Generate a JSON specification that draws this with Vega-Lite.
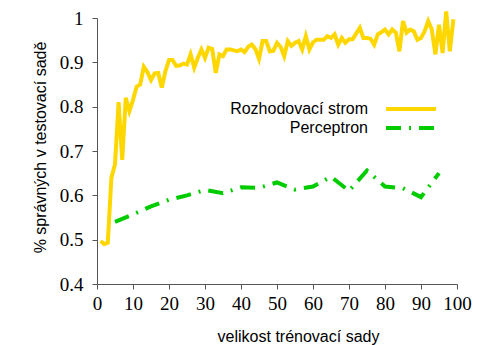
{
  "$schema": "https://vega.github.io/schema/vega-lite/v6.json",
  "width": 360,
  "height": 266,
  "autosize": {"type": "none"},
  "padding": {"left": 97, "top": 18, "right": 35, "bottom": 61},
  "config": {
    "view": {"stroke": null},
    "style": {
      "guide-label": {"font": "Liberation Serif", "fontSize": 19, "fill": "#000000"}
    },
    "axis": {
      "grid": false,
      "domainColor": "#555555",
      "tickColor": "#555555",
      "tickSize": 5,
      "labelFont": "Liberation Serif",
      "labelFontSize": 19,
      "labelColor": "#000000",
      "titleFont": "Liberation Sans",
      "titleFontSize": 16,
      "titleFontWeight": "normal",
      "titleColor": "#000000"
    },
    "legend": {
      "labelFont": "Liberation Sans",
      "labelFontSize": 16,
      "labelColor": "#000000"
    }
  },
  "data": {
    "values": [
      {"x": 1, "acc": 0.497, "model": "Rozhodovací strom"},
      {"x": 2, "acc": 0.49, "model": "Rozhodovací strom"},
      {"x": 3, "acc": 0.493, "model": "Rozhodovací strom"},
      {"x": 4, "acc": 0.64, "model": "Rozhodovací strom"},
      {"x": 5, "acc": 0.67, "model": "Rozhodovací strom"},
      {"x": 6, "acc": 0.81, "model": "Rozhodovací strom"},
      {"x": 7, "acc": 0.68, "model": "Rozhodovací strom"},
      {"x": 8, "acc": 0.82, "model": "Rozhodovací strom"},
      {"x": 9, "acc": 0.79, "model": "Rozhodovací strom"},
      {"x": 10, "acc": 0.815, "model": "Rozhodovací strom"},
      {"x": 11, "acc": 0.845, "model": "Rozhodovací strom"},
      {"x": 12, "acc": 0.85, "model": "Rozhodovací strom"},
      {"x": 13, "acc": 0.89, "model": "Rozhodovací strom"},
      {"x": 14, "acc": 0.878, "model": "Rozhodovací strom"},
      {"x": 15, "acc": 0.86, "model": "Rozhodovací strom"},
      {"x": 16, "acc": 0.875, "model": "Rozhodovací strom"},
      {"x": 17, "acc": 0.876, "model": "Rozhodovací strom"},
      {"x": 18, "acc": 0.843, "model": "Rozhodovací strom"},
      {"x": 19, "acc": 0.88, "model": "Rozhodovací strom"},
      {"x": 20, "acc": 0.905, "model": "Rozhodovací strom"},
      {"x": 21, "acc": 0.905, "model": "Rozhodovací strom"},
      {"x": 22, "acc": 0.892, "model": "Rozhodovací strom"},
      {"x": 23, "acc": 0.893, "model": "Rozhodovací strom"},
      {"x": 24, "acc": 0.897, "model": "Rozhodovací strom"},
      {"x": 25, "acc": 0.895, "model": "Rozhodovací strom"},
      {"x": 26, "acc": 0.918, "model": "Rozhodovací strom"},
      {"x": 27, "acc": 0.888, "model": "Rozhodovací strom"},
      {"x": 28, "acc": 0.91, "model": "Rozhodovací strom"},
      {"x": 29, "acc": 0.929, "model": "Rozhodovací strom"},
      {"x": 30, "acc": 0.91, "model": "Rozhodovací strom"},
      {"x": 31, "acc": 0.933, "model": "Rozhodovací strom"},
      {"x": 32, "acc": 0.93, "model": "Rozhodovací strom"},
      {"x": 33, "acc": 0.876, "model": "Rozhodovací strom"},
      {"x": 34, "acc": 0.918, "model": "Rozhodovací strom"},
      {"x": 35, "acc": 0.914, "model": "Rozhodovací strom"},
      {"x": 36, "acc": 0.929, "model": "Rozhodovací strom"},
      {"x": 37, "acc": 0.929, "model": "Rozhodovací strom"},
      {"x": 38, "acc": 0.927, "model": "Rozhodovací strom"},
      {"x": 39, "acc": 0.925, "model": "Rozhodovací strom"},
      {"x": 40, "acc": 0.929, "model": "Rozhodovací strom"},
      {"x": 41, "acc": 0.923, "model": "Rozhodovací strom"},
      {"x": 42, "acc": 0.935, "model": "Rozhodovací strom"},
      {"x": 43, "acc": 0.94, "model": "Rozhodovací strom"},
      {"x": 44, "acc": 0.93, "model": "Rozhodovací strom"},
      {"x": 45, "acc": 0.908, "model": "Rozhodovací strom"},
      {"x": 46, "acc": 0.948, "model": "Rozhodovací strom"},
      {"x": 47, "acc": 0.948, "model": "Rozhodovací strom"},
      {"x": 48, "acc": 0.925, "model": "Rozhodovací strom"},
      {"x": 49, "acc": 0.926, "model": "Rozhodovací strom"},
      {"x": 50, "acc": 0.944, "model": "Rozhodovací strom"},
      {"x": 51, "acc": 0.935, "model": "Rozhodovací strom"},
      {"x": 52, "acc": 0.914, "model": "Rozhodovací strom"},
      {"x": 53, "acc": 0.948, "model": "Rozhodovací strom"},
      {"x": 54, "acc": 0.937, "model": "Rozhodovací strom"},
      {"x": 55, "acc": 0.944, "model": "Rozhodovací strom"},
      {"x": 56, "acc": 0.948, "model": "Rozhodovací strom"},
      {"x": 57, "acc": 0.929, "model": "Rozhodovací strom"},
      {"x": 58, "acc": 0.959, "model": "Rozhodovací strom"},
      {"x": 59, "acc": 0.929, "model": "Rozhodovací strom"},
      {"x": 60, "acc": 0.945, "model": "Rozhodovací strom"},
      {"x": 61, "acc": 0.951, "model": "Rozhodovací strom"},
      {"x": 62, "acc": 0.951, "model": "Rozhodovací strom"},
      {"x": 63, "acc": 0.951, "model": "Rozhodovací strom"},
      {"x": 64, "acc": 0.959, "model": "Rozhodovací strom"},
      {"x": 65, "acc": 0.955, "model": "Rozhodovací strom"},
      {"x": 66, "acc": 0.963, "model": "Rozhodovací strom"},
      {"x": 67, "acc": 0.94, "model": "Rozhodovací strom"},
      {"x": 68, "acc": 0.955, "model": "Rozhodovací strom"},
      {"x": 69, "acc": 0.944, "model": "Rozhodovací strom"},
      {"x": 70, "acc": 0.952, "model": "Rozhodovací strom"},
      {"x": 71, "acc": 0.952, "model": "Rozhodovací strom"},
      {"x": 72, "acc": 0.965, "model": "Rozhodovací strom"},
      {"x": 73, "acc": 0.978, "model": "Rozhodovací strom"},
      {"x": 74, "acc": 0.955, "model": "Rozhodovací strom"},
      {"x": 75, "acc": 0.955, "model": "Rozhodovací strom"},
      {"x": 76, "acc": 0.953, "model": "Rozhodovací strom"},
      {"x": 77, "acc": 0.94, "model": "Rozhodovací strom"},
      {"x": 78, "acc": 0.963, "model": "Rozhodovací strom"},
      {"x": 79, "acc": 0.968, "model": "Rozhodovací strom"},
      {"x": 80, "acc": 0.974, "model": "Rozhodovací strom"},
      {"x": 81, "acc": 0.963, "model": "Rozhodovací strom"},
      {"x": 82, "acc": 0.974, "model": "Rozhodovací strom"},
      {"x": 83, "acc": 0.967, "model": "Rozhodovací strom"},
      {"x": 84, "acc": 0.925, "model": "Rozhodovací strom"},
      {"x": 85, "acc": 0.993, "model": "Rozhodovací strom"},
      {"x": 86, "acc": 0.967, "model": "Rozhodovací strom"},
      {"x": 87, "acc": 0.974, "model": "Rozhodovací strom"},
      {"x": 88, "acc": 0.97, "model": "Rozhodovací strom"},
      {"x": 89, "acc": 0.951, "model": "Rozhodovací strom"},
      {"x": 90, "acc": 0.955, "model": "Rozhodovací strom"},
      {"x": 91, "acc": 0.97, "model": "Rozhodovací strom"},
      {"x": 92, "acc": 0.993, "model": "Rozhodovací strom"},
      {"x": 93, "acc": 0.974, "model": "Rozhodovací strom"},
      {"x": 94, "acc": 0.918, "model": "Rozhodovací strom"},
      {"x": 95, "acc": 0.985, "model": "Rozhodovací strom"},
      {"x": 96, "acc": 0.921, "model": "Rozhodovací strom"},
      {"x": 97, "acc": 1.015, "model": "Rozhodovací strom"},
      {"x": 98, "acc": 0.925, "model": "Rozhodovací strom"},
      {"x": 99, "acc": 0.997, "model": "Rozhodovací strom"},
      {"x": 5, "acc": 0.54, "model": "Perceptron"},
      {"x": 10, "acc": 0.557, "model": "Perceptron"},
      {"x": 15, "acc": 0.575, "model": "Perceptron"},
      {"x": 20, "acc": 0.59, "model": "Perceptron"},
      {"x": 25, "acc": 0.6, "model": "Perceptron"},
      {"x": 30, "acc": 0.612, "model": "Perceptron"},
      {"x": 35, "acc": 0.605, "model": "Perceptron"},
      {"x": 40, "acc": 0.618, "model": "Perceptron"},
      {"x": 45, "acc": 0.617, "model": "Perceptron"},
      {"x": 50, "acc": 0.629, "model": "Perceptron"},
      {"x": 55, "acc": 0.613, "model": "Perceptron"},
      {"x": 60, "acc": 0.62, "model": "Perceptron"},
      {"x": 65, "acc": 0.642, "model": "Perceptron"},
      {"x": 70, "acc": 0.61, "model": "Perceptron"},
      {"x": 75, "acc": 0.656, "model": "Perceptron"},
      {"x": 80, "acc": 0.62, "model": "Perceptron"},
      {"x": 85, "acc": 0.616, "model": "Perceptron"},
      {"x": 90, "acc": 0.596, "model": "Perceptron"},
      {"x": 95, "acc": 0.65, "model": "Perceptron"}
    ]
  },
  "mark": {"type": "line", "strokeWidth": 4, "clip": false},
  "encoding": {
    "x": {
      "field": "x",
      "type": "quantitative",
      "scale": {"domain": [0, 100], "nice": false},
      "axis": {
        "values": [0, 10, 20, 30, 40, 50, 60, 70, 80, 90, 100],
        "title": "velikost trénovací sady",
        "labelFont": "Liberation Serif",
        "labelFontSize": 19,
        "labelPadding": 5,
        "labelFlush": false,
        "titleX": 201,
        "titleY": 44,
        "encode": {
          "labels": {
            "update": {
              "font": {"value": "Liberation Serif"},
              "fontSize": {"value": 19}
            }
          }
        }
      }
    },
    "y": {
      "field": "acc",
      "type": "quantitative",
      "scale": {"domain": [0.4, 1], "nice": false, "zero": false},
      "axis": {
        "values": [0.4, 0.5, 0.6, 0.7, 0.8, 0.9, 1],
        "format": "~g",
        "title": "% správných v testovací sadě",
        "labelFont": "Liberation Serif",
        "labelFontSize": 19,
        "labelPadding": 9,
        "labelFlush": false,
        "titleX": -49,
        "titleY": 129,
        "encode": {
          "labels": {
            "update": {
              "font": {"value": "Liberation Serif"},
              "fontSize": {"value": 19}
            }
          }
        }
      }
    },
    "color": {
      "field": "model",
      "type": "nominal",
      "scale": {"domain": ["Rozhodovací strom", "Perceptron"], "range": ["#ffd700", "#00cc00"]},
      "legend": {
        "title": null,
        "orient": "none",
        "legendX": 306,
        "legendY": 83,
        "symbolType": "M-5,0H5",
        "symbolSize": 100,
        "symbolStrokeWidth": 4,
        "labelAlign": "right",
        "labelOffset": -51,
        "padding": 0,
        "rowPadding": 3,
        "labelFont": "Liberation Sans",
        "labelFontSize": 16
      }
    },
    "strokeDash": {
      "field": "model",
      "type": "nominal",
      "scale": {"domain": ["Rozhodovací strom", "Perceptron"], "range": [[1, 0], [15, 8, 2, 8]]},
      "legend": null
    }
  }
}
